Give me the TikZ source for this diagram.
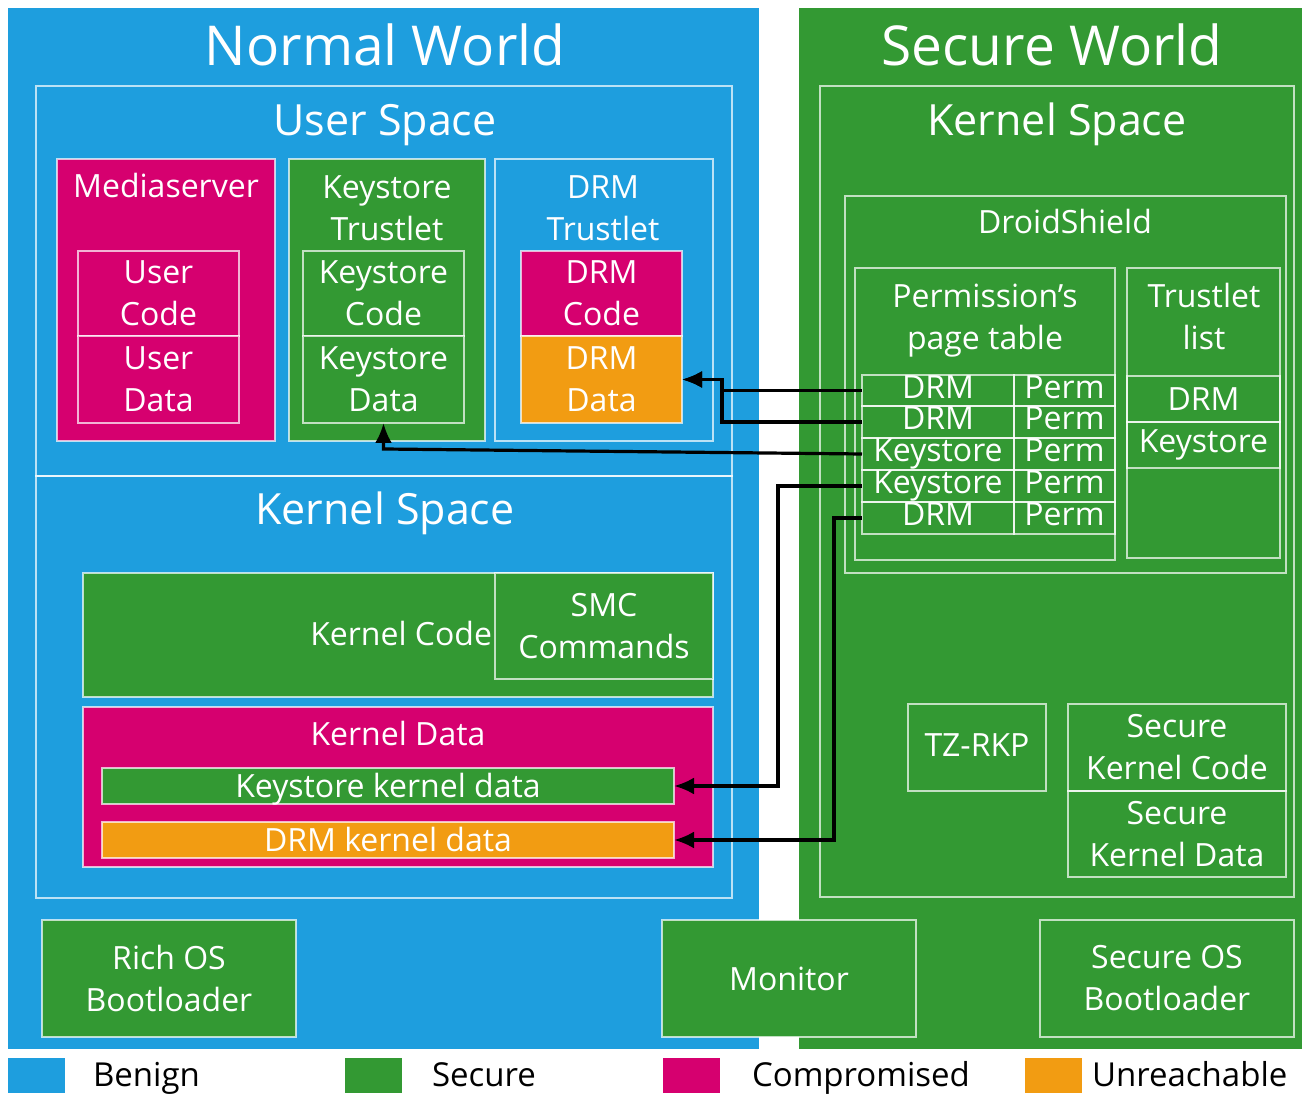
\documentclass[tikz,border=0pt]{standalone}
\usepackage{fontspec}
\setmainfont{Open Sans}
\usetikzlibrary{fit,arrows.meta}

\definecolor{benign}{RGB}{30,158,222}
\definecolor{secure}{RGB}{51,153,51}
\definecolor{compromised}{RGB}{214,0,111}
\definecolor{unreachable}{RGB}{242,156,18}

\newcommand\szWorld{\fontsize{27.5}{33}\selectfont}
\newcommand\szTitle{\fontsize{21.5}{26}\selectfont}
\newcommand\szBox{\fontsize{16}{21}\selectfont}
\newcommand\szLegend{\fontsize{16.5}{20}\selectfont}

\tikzset{
  every node/.style={text=white, inner sep=0pt, outer sep=0pt, font=\szBox},
  dgpanel/.style={fill=#1},
  dgframe/.style={draw=white, draw opacity=0.7, line width=1pt},
  dgbox/.style={dgframe, fill=#1},
  dgtext/.style={align=center},
  dgrow/.style={text height=11.5pt, text depth=3.5pt},
  dgcap/.style={text height=11.4pt, text depth=0pt},
  dgkey/.style={fill=#1},
  dglabel/.style={text=black, font=\szLegend, anchor=base west},
  dgptr/.style={draw=black, line width=1.6pt, -{Latex[length=10pt,width=8.5pt]}},
}

\begin{document}
\begin{tikzpicture}[x=0.5pt,y=-0.5pt]
\path[fill=white, use as bounding box] (0,0) rectangle (1308,1095);

% the two worlds
\node[dgpanel=benign, fit={(8,8)(759,1049)}] (nw) {};
\node[dgpanel=secure, fit={(799,8)(1302,1049)}] (sw) {};
\node[font=\szWorld] (nwtitle) at (385,45) {Normal World};
\node[font=\szWorld] (swtitle) at (1052,45) {Secure World};

% normal world: user space
\node[dgframe, fit={(36,86)(732,476)}] (us) {};
\node[font=\szTitle, anchor=base] (ustitle) at (385,136) {User Space};

\node[dgbox=compromised, fit={(57,159)(275,441)}] (media) {};
\node[anchor=base] (mediat) at (166,198) {Mediaserver};
\node[dgbox=compromised, fit={(78,251)(239,336)}] (ucode) {};
\node[dgtext] (ucodet) at (ucode) {User\\Code};
\node[dgbox=compromised, fit={(78,336)(239,423)}] (udata) {};
\node[dgtext] (udatat) at (udata) {User\\Data};

\node[dgbox=secure, fit={(289,159)(485,441)}] (kst) {};
\node[dgtext] (kstt) at (387,208) {Keystore\\Trustlet};
\node[dgbox=secure, fit={(303,251)(464,336)}] (kcode) {};
\node[dgtext] (kcodet) at (kcode) {Keystore\\Code};
\node[dgbox=secure, fit={(303,336)(464,423)}] (kdata) {};
\node[dgtext] (kdatat) at (kdata) {Keystore\\Data};

\node[dgframe, fit={(495,159)(713,441)}] (drmt) {};
\node[dgtext] (drmtt) at (603,208) {DRM\\Trustlet};
\node[dgbox=compromised, fit={(521,251)(682,336)}] (dcode) {};
\node[dgtext] (dcodet) at (dcode) {DRM\\Code};
\node[dgbox=unreachable, fit={(521,336)(682,423)}] (ddata) {};
\node[dgtext] (ddatat) at (ddata) {DRM\\Data};

% normal world: kernel space
\node[dgframe, fit={(36,476)(732,898)}] (nks) {};
\node[font=\szTitle, anchor=base] (nkstitle) at (385,525) {Kernel Space};

\node[dgbox=secure, fit={(83,573)(713,697)}] (kcodebox) {};
\node[anchor=east] (kcodeboxt) at (492,634) {Kernel Code};
\node[dgbox=secure, fit={(495,573)(713,679)}] (smc) {};
\node[dgtext] (smct) at (smc) {SMC\\Commands};

\node[dgbox=compromised, fit={(83,707)(713,867)}] (kdatabox) {};
\node (kdataboxt) at (398,734) {Kernel Data};
\node[dgbox=secure, fit={(102,768)(674,804)}] (kskd) {};
\node[dgcap] (kskdt) at (kskd) {Keystore kernel data};
\node[dgbox=unreachable, fit={(102,822)(674,858)}] (drmkd) {};
\node[dgcap] (drmkdt) at (drmkd) {DRM kernel data};

% bootloaders and monitor
\node[dgbox=secure, fit={(42,920)(296,1037)}] (richos) {};
\node[dgtext] (richost) at (richos) {Rich OS\\Bootloader};
\node[dgbox=secure, fit={(662,920)(916,1037)}] (monitor) {};
\node (monitort) at (monitor) {Monitor};
\node[dgbox=secure, fit={(1040,920)(1294,1037)}] (secos) {};
\node[dgtext] (secost) at (secos) {Secure OS\\Bootloader};

% secure world: kernel space
\node[dgframe, fit={(820,86)(1294,897)}] (sks) {};
\node[font=\szTitle, anchor=base] (skstitle) at (1057,136) {Kernel Space};

\node[dgframe, fit={(845,196)(1286,573)}] (ds) {};
\node (dst) at (1065,222) {DroidShield};

% permission page table
\node[dgframe, fit={(855,268)(1115,560)}] (ppt) {};
\node[dgtext] (pptt) at (985,321) {Permission’s\\page table};
\node[dgframe, fit={(862,375)(1014,406)}] (r1a) {};
\node[dgframe, fit={(1014,375)(1115,406)}] (r1b) {};
\node[dgframe, fit={(862,406)(1014,438)}] (r2a) {};
\node[dgframe, fit={(1014,406)(1115,438)}] (r2b) {};
\node[dgframe, fit={(862,438)(1014,470)}] (r3a) {};
\node[dgframe, fit={(1014,438)(1115,470)}] (r3b) {};
\node[dgframe, fit={(862,470)(1014,502)}] (r4a) {};
\node[dgframe, fit={(1014,470)(1115,502)}] (r4b) {};
\node[dgframe, fit={(862,502)(1014,534)}] (r5a) {};
\node[dgframe, fit={(1014,502)(1115,534)}] (r5b) {};
\node[dgrow] (r1at) at (r1a) {DRM};
\node[dgrow] (r1bt) at (r1b) {Perm};
\node[dgrow] (r2at) at (r2a) {DRM};
\node[dgrow] (r2bt) at (r2b) {Perm};
\node[dgrow] (r3at) at (r3a) {Keystore};
\node[dgrow] (r3bt) at (r3b) {Perm};
\node[dgrow] (r4at) at (r4a) {Keystore};
\node[dgrow] (r4bt) at (r4b) {Perm};
\node[dgrow] (r5at) at (r5a) {DRM};
\node[dgrow] (r5bt) at (r5b) {Perm};

% trustlet list
\node[dgframe, fit={(1127,268)(1280,558)}] (tl) {};
\node[dgtext] (tlt) at (1204,317) {Trustlet\\list};
\node[dgframe, fit={(1127,376)(1280,422)}] (tl1) {};
\node[dgcap] (tl1t) at (tl1) {DRM};
\node[dgframe, fit={(1127,422)(1280,468)}] (tl2) {};
\node[dgrow] (tl2t) at (tl2) {Keystore};

% secure kernel parts
\node[dgframe, fit={(908,704)(1046,791)}] (tzrkp) {};
\node[dgcap] (tzrkpt) at ([yshift=1pt]tzrkp.center) {TZ-RKP};
\node[dgframe, fit={(1068,704)(1286,791)}] (skc) {};
\node[dgtext] (skct) at (skc) {Secure\\Kernel Code};
\node[dgframe, fit={(1068,791)(1286,877)}] (skd) {};
\node[dgtext] (skdt) at (skd) {Secure\\Kernel Data};

% legend
\node[dgkey=benign, fit={(8,1058)(65,1093)}] (kb) {};
\node[dglabel] (kbt) at (93,1087) {Benign};
\node[dgkey=secure, fit={(345,1058)(402,1093)}] (ks) {};
\node[dglabel] (kst2) at (432,1087) {Secure};
\node[dgkey=compromised, fit={(663,1058)(720,1093)}] (kc) {};
\node[dglabel] (kct) at (752,1087) {Compromised};
\node[dgkey=unreachable, fit={(1025,1058)(1082,1093)}] (ku) {};
\node[dglabel] (kut) at (1092,1087) {Unreachable};

% permission links from the page table
\coordinate (j1) at (722,0);
\coordinate (j2) at (778,0);
\coordinate (j3) at (834,0);
\coordinate (k3) at (383.5,449);
\draw[dgptr] (r1a.west) -- (r1a.west -| j1) |- (ddata.east);
\draw[dgptr] (r2a.west) -- (r2a.west -| j1) |- (ddata.east);
\draw[dgptr] (r3a.west) -- (kdata.south |- k3) -- (kdata.south);
\draw[dgptr] (r4a.west) -- (r4a.west -| j2) |- (kskd.east);
\draw[dgptr] (r5a.west) -- (r5a.west -| j3) |- (drmkd.east);
\end{tikzpicture}
\end{document}
